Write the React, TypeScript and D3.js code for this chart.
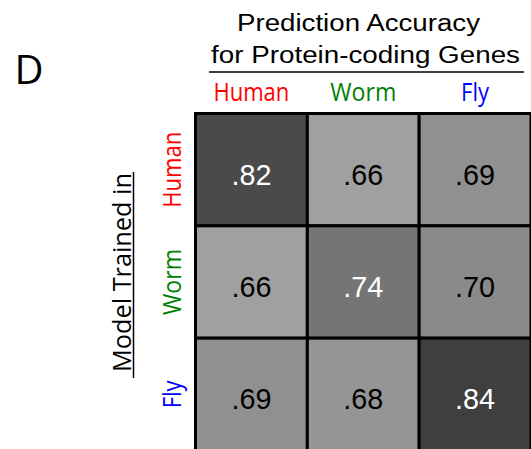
import React from "react";
import * as d3 from "d3";

const species = ["Human", "Worm", "Fly"];
const speciesColors = ["#ff0000", "#008000", "#0000ff"];
// rows: model trained in, columns: predicted species
const accuracy = [
  [0.82, 0.66, 0.69],
  [0.66, 0.74, 0.7],
  [0.69, 0.68, 0.84],
];
const titleLines = ["Prediction Accuracy", "for Protein-coding Genes"];
const rowTitle = "Model Trained in";
const panelLetter = "D";

const W = 531;
const H = 449;
const sans = "'Liberation Sans', Arial, sans-serif";
const humanist = "'Open Sans', 'Noto Sans', sans-serif";

export default function App() {
  const x = d3.scaleBand<string>().domain(species).range([195.5, 531]);
  const y = d3.scaleBand<string>().domain(species).range([113.5, 450.5]);
  const fill = d3
    .scaleLinear<string>()
    .domain([0.66, 0.84])
    .range(["#a0a0a0", "#3f3f3f"]);
  const fmt = (v: number) => d3.format(".2f")(v).replace(/^0/, "");

  const cells = accuracy.flatMap((row, i) =>
    row.map((v, j) => ({ row: species[i], col: species[j], v }))
  );
  const labelLen: Record<string, number> = { Human: 76, Worm: 66, Fly: 28 };

  return (
    <svg
      width={W}
      height={H}
      style={{ position: "absolute", left: 0, top: 0, display: "block", background: "#fff" }}
    >
      <text x={14.5} y={84} fontFamily={humanist} fontSize={40} fill="#000">
        {panelLetter}
      </text>

      {/* title */}
      <text x={358.5} y={31} textAnchor="middle" fontFamily={sans} fontSize={23}
        textLength={243} lengthAdjust="spacingAndGlyphs">
        {titleLines[0]}
      </text>
      <text x={365.5} y={63} textAnchor="middle" fontFamily={sans} fontSize={23}
        textLength={309} lengthAdjust="spacingAndGlyphs">
        {titleLines[1]}
      </text>
      <line x1={209} x2={524} y1={72} y2={72} stroke="#000" strokeWidth={1.5} />

      {/* column labels */}
      {species.map((s, i) => (
        <text key={"c" + s} x={x(s)! + x.bandwidth() / 2} y={101} textAnchor="middle"
          fontFamily={humanist} fontSize={25} fill={speciesColors[i]}
          textLength={labelLen[s]} lengthAdjust="spacingAndGlyphs">
          {s}
        </text>
      ))}

      {/* row labels */}
      {species.map((s, i) => (
        <text key={"r" + s} transform={`translate(181,${y(s)! + y.bandwidth() / 2}) rotate(-90)`}
          textAnchor="middle" fontFamily={humanist} fontSize={25} fill={speciesColors[i]}
          textLength={labelLen[s]} lengthAdjust="spacingAndGlyphs">
          {s}
        </text>
      ))}

      {/* row axis title */}
      <text transform="translate(131,272.5) rotate(-90)" textAnchor="middle"
        fontFamily={humanist} fontSize={25} fill="#000"
        textLength={199} lengthAdjust="spacingAndGlyphs">
        {rowTitle}
      </text>
      <line x1={133.5} x2={133.5} y1={172} y2={378} stroke="#000" strokeWidth={1.5} />

      {/* heatmap */}
      {cells.map((c) => (
        <rect key={c.row + c.col} x={x(c.col)} y={y(c.row)} width={x.bandwidth()}
          height={y.bandwidth()} fill={fill(c.v)} stroke="#000" strokeWidth={3} />
      ))}
      {cells.map((c) => (
        <text key={"t" + c.row + c.col} x={x(c.col)! + x.bandwidth() / 2}
          y={y(c.row)! + y.bandwidth() / 2 + 15} textAnchor="middle"
          fontFamily={sans} fontSize={30} fill={c.v > 0.72 ? "#fff" : "#000"}
          textLength={40} lengthAdjust="spacingAndGlyphs">
          {fmt(c.v)}
        </text>
      ))}
    </svg>
  );
}
